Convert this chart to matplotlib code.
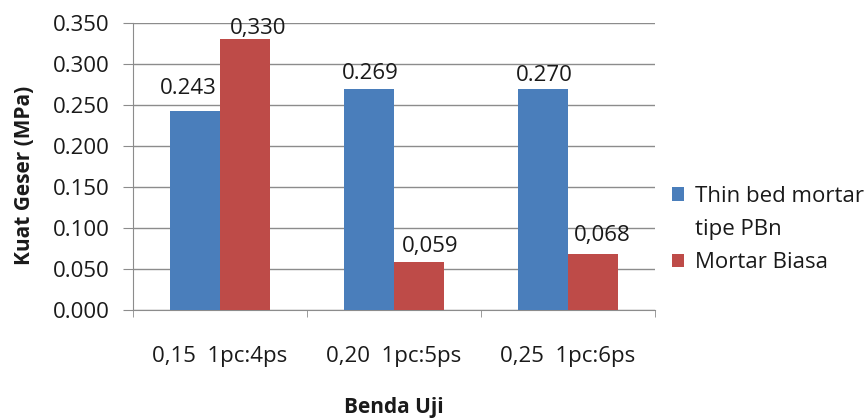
import matplotlib
matplotlib.use("Agg")
import matplotlib.pyplot as plt
from matplotlib.patches import Patch
import numpy as np

categories = ["0,15  1pc:4ps", "0,20  1pc:5ps", "0,25  1pc:6ps"]
thin_bed = [0.243, 0.269, 0.270]
biasa = [0.330, 0.059, 0.068]
thin_labels = ["0.243", "0.269", "0.270"]
biasa_labels = ["0,330", "0,059", "0,068"]
series_names = ["Thin bed mortar\ntipe PBn", "Mortar Biasa"]
yticks = [0.0, 0.05, 0.10, 0.15, 0.20, 0.25, 0.30, 0.35]

# label offsets in pixels (styling)
thin_off = [(-7, 22), (1, 16), (1, 13)]
biasa_off = [(13, 11), (11, 15), (9, 19)]

plt.rcParams['font.family'] = ['Open Sans', 'DejaVu Sans']
blue = '#4A7EBB'
red = '#BE4B48'
grid = '#8C8C8C'
txt = '#1a1a1a'
fs = 16

fig = plt.figure(figsize=(8.67, 4.19), dpi=100)
ax = fig.add_axes([133/867, 1-310/419, 522/867, 287/419])

x = np.arange(len(categories))
w = 0.285
ax.bar(x - w/2, thin_bed, w, color=blue, label=series_names[0], zorder=3)
ax.bar(x + w/2, biasa, w, color=red, label=series_names[1], zorder=3)

for i in range(len(x)):
    ax.annotate(thin_labels[i], (x[i] - w/2, thin_bed[i]), xytext=thin_off[i],
                textcoords='offset pixels', ha='center', va='center', fontsize=fs, color=txt)
    ax.annotate(biasa_labels[i], (x[i] + w/2, biasa[i]), xytext=biasa_off[i],
                textcoords='offset pixels', ha='center', va='center', fontsize=fs, color=txt)

ax.set_xlim(-0.5, len(categories) - 0.5)
ax.set_ylim(0, 0.35)
ax.set_yticks(yticks)
ax.set_yticklabels([f"{v:.3f}" for v in yticks], fontsize=fs, color=txt)
ax.yaxis.grid(True, color=grid, linewidth=1, zorder=0)
ax.set_axisbelow(True)

ax.set_xticks(x)
ax.set_xticklabels(categories, fontsize=fs, color=txt)
ax.tick_params(axis='x', length=0, pad=26)
ax.set_xticks(np.arange(-0.5, len(categories)), minor=True)
ax.tick_params(axis='x', which='minor', length=5, color=grid, direction='out')
ax.tick_params(axis='y', length=7, color=grid, direction='out', pad=10)

for s in ['top', 'right']:
    ax.spines[s].set_visible(False)
ax.spines['left'].set_color(grid)
ax.spines['bottom'].set_color(grid)

ax.set_ylabel("Kuat Geser (MPa)", fontsize=15, fontweight='bold', color=txt)
ax.yaxis.set_label_coords(-98/522, 0.47)
ax.set_xlabel("Benda Uji", fontsize=15, fontweight='bold', color=txt)
ax.xaxis.set_label_coords(0.5, -87/287)

# legend: first series label wraps onto two lines, square aligned with first line
first_lines = series_names[0].split("\n")
handles = [Patch(facecolor=blue), Patch(facecolor='none', edgecolor='none'), Patch(facecolor=red)]
labels = [first_lines[0], first_lines[1], series_names[1]]
leg = ax.legend(handles, labels, loc='upper left', bbox_to_anchor=(672/867, 1-186/419),
                bbox_transform=fig.transFigure, frameon=False, fontsize=fs,
                handlelength=0.55, handleheight=0.55, handletextpad=0.5,
                labelspacing=0.55, borderpad=0, borderaxespad=0)
for t in leg.get_texts():
    t.set_color(txt)

fig.savefig("out.png", dpi=100)
